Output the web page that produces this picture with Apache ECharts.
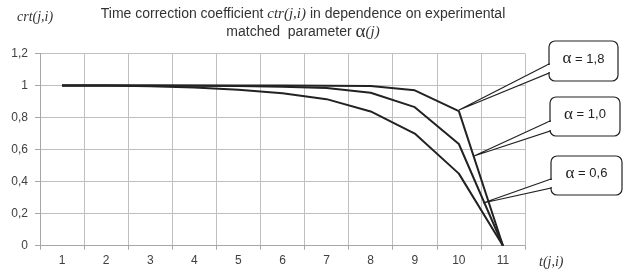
<!DOCTYPE html>
<html>
<head>
    <meta charset="UTF-8">
    <script type="text/javascript" src="https://cdn.jsdelivr.net/npm/echarts@6/dist/echarts.min.js"></script>
    <style type="text/css">
        body { margin: 0; background: #fff; }
        #chart { width: 624px; height: 273px; }
    </style>
</head>
<body>
<div id="chart"></div>
<script type="text/javascript">
    // t(j,i) steps
    var steps = ['1', '2', '3', '4', '5', '6', '7', '8', '9', '10', '11'];
    // crt(j,i) for each alpha
    var alpha18 = [1, 1, 1, 1, 1, 1, 0.999, 0.997, 0.97, 0.84, 0];
    var alpha10 = [1, 1, 1, 0.999, 0.997, 0.993, 0.985, 0.955, 0.865, 0.635, 0];
    var alpha06 = [1, 1, 0.996, 0.988, 0.973, 0.952, 0.915, 0.838, 0.70, 0.45, 0];
    var yTicks = [0, 0.2, 0.4, 0.6, 0.8, 1, 1.2];

    var serif = '"Liberation Serif", "DejaVu Serif", serif';
    var sans = '"Liberation Sans", Arial, sans-serif';
    var lineColor = '#222222';

    // rounded box with a wedge pointing at the curve
    function callout(bx, by, bw, bh, w1, w2, tx, ty, label) {
        return [{
            type: 'rect',
            shape: { x: bx, y: by, width: bw, height: bh, r: 6 },
            style: { fill: '#fff', stroke: '#222', lineWidth: 1.2 },
            z: 100
        }, {
            type: 'polygon',
            shape: { points: [[bx, w1], [tx, ty], [bx, w2]] },
            style: { fill: '#fff', stroke: '#222', lineWidth: 1.2 },
            z: 101
        }, {
            type: 'line',
            shape: { x1: bx, y1: w1 + 1, x2: bx, y2: w2 - 1 },
            style: { stroke: '#fff', lineWidth: 3 },
            z: 102
        }, {
            type: 'text',
            x: bx + bw / 2,
            y: by + bh / 2 - 2,
            style: {
                text: '{g|α}{s| = ' + label + '}',
                align: 'center',
                verticalAlign: 'middle',
                rich: {
                    g: { fontFamily: serif, fontSize: 17, fill: '#222' },
                    s: { fontFamily: sans, fontSize: 13, fill: '#222' }
                }
            },
            z: 103
        }];
    }

    var chart = echarts.init(document.getElementById('chart'));

    var graphics = [].concat(
        callout(549, 41, 69, 40, 64, 73, 459, 110, '1,8'),
        callout(550, 97, 70, 39, 121, 131, 474, 156, '1,0'),
        callout(551, 156, 71, 39, 179, 188, 483, 203, '0,6')
    );
    graphics.push({
        type: 'text',
        x: 17, y: 17,
        style: { text: 'crt(j,i)', fontFamily: serif, fontStyle: 'italic', fontSize: 14, fill: '#333', verticalAlign: 'middle' }
    });
    graphics.push({
        type: 'text',
        x: 539, y: 262,
        style: { text: 't(j,i)', fontFamily: serif, fontStyle: 'italic', fontSize: 14, fill: '#333', verticalAlign: 'middle' }
    });

    function makeSeries(name, data) {
        return {
            name: name,
            type: 'line',
            data: data,
            symbol: 'none',
            smooth: false,
            lineStyle: { color: lineColor, width: 2 },
            animation: false
        };
    }

    chart.setOption({
        animation: false,
        title: {
            left: 298,
            top: 0,
            textAlign: 'center',
            text: '{a|Time correction coefficient }{b|ctr(j,i)}{a| in dependence on experimental}\n{a|matched  parameter }{c|α}{b|(j)}',
            textStyle: {
                fontWeight: 'normal',
                rich: {
                    a: { fontFamily: sans, fontWeight: 'normal', fontSize: 14, color: '#333', lineHeight: 18 },
                    b: { fontFamily: serif, fontWeight: 'normal', fontStyle: 'italic', fontSize: 15, color: '#333', lineHeight: 18 },
                    c: { fontFamily: serif, fontWeight: 'normal', fontSize: 19, color: '#333', lineHeight: 18 }
                }
            }
        },
        grid: { left: 40, right: 99, top: 53.5, bottom: 27.3, containLabel: false },
        xAxis: {
            type: 'category',
            data: steps,
            boundaryGap: true,
            axisLine: { lineStyle: { color: '#a6a6a6' } },
            axisTick: { show: true, length: 4, lineStyle: { color: '#a6a6a6' } },
            axisLabel: { margin: 9, fontFamily: sans, fontSize: 12, color: '#404040' },
            splitLine: { show: true, lineStyle: { color: '#bfbfbf', width: 1 } }
        },
        yAxis: {
            type: 'value',
            min: yTicks[0],
            max: yTicks[yTicks.length - 1],
            interval: 0.2,
            axisLine: { show: true, lineStyle: { color: '#a6a6a6' } },
            axisTick: { show: true, length: 5, lineStyle: { color: '#a6a6a6' } },
            axisLabel: {
                margin: 12,
                fontFamily: sans,
                fontSize: 12,
                color: '#404040',
                formatter: function (v) {
                    return String(Math.round(v * 10) / 10).replace('.', ',');
                }
            },
            splitLine: { show: true, lineStyle: { color: '#bfbfbf', width: 1 } }
        },
        series: [
            makeSeries('α = 1,8', alpha18),
            makeSeries('α = 1,0', alpha10),
            makeSeries('α = 0,6', alpha06)
        ],
        graphic: graphics
    });
</script>
</body>
</html>
